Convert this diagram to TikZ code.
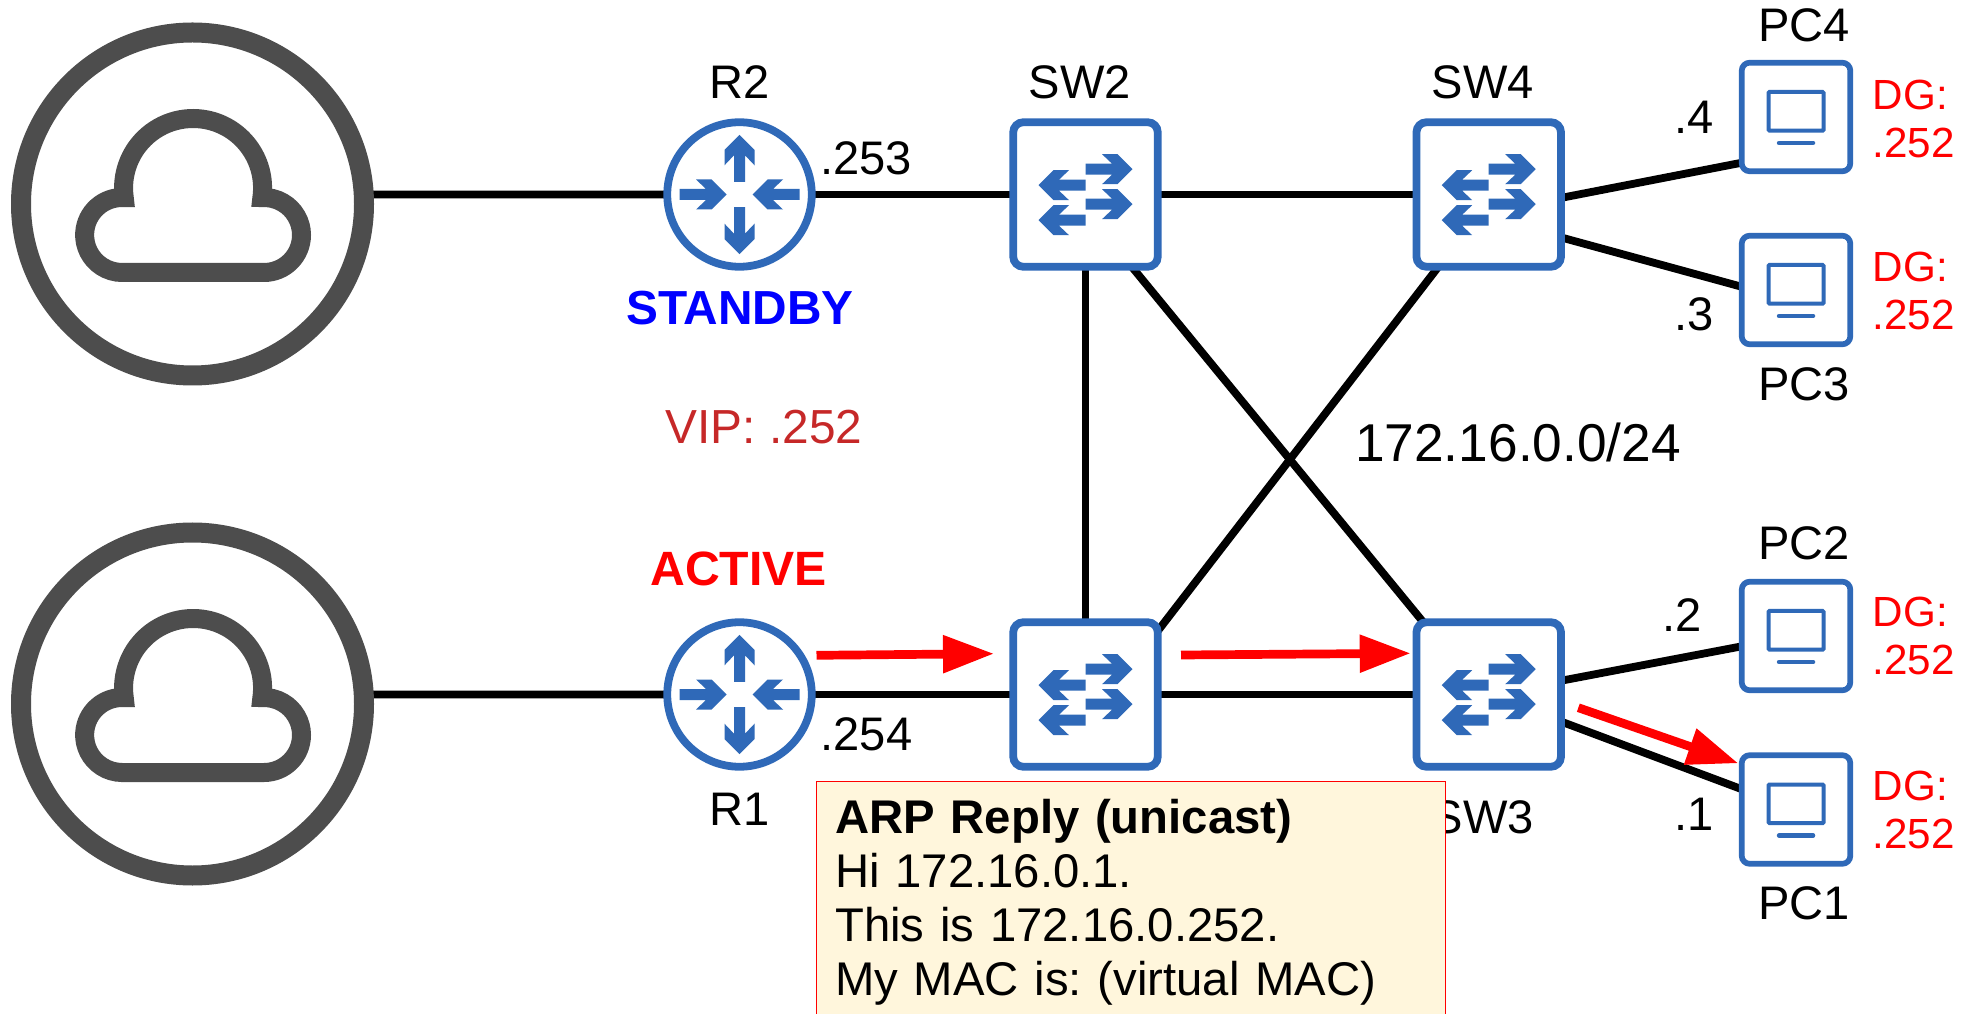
\documentclass[tikz,border=0pt]{standalone}
\usepackage{fontspec}
\setmainfont{Liberation Sans}
\usepackage{xcolor}
\usetikzlibrary{arrows.meta,backgrounds}
\definecolor{netblue}{HTML}{2F69B8}
\definecolor{netgrey}{HTML}{4D4D4D}
\definecolor{vipred}{HTML}{C62828}
\definecolor{notecream}{HTML}{FFF6DC}
\newcommand{\iconarrow}{(0,.055) -- (.265,.055) -- (.165,.15) -- (.32,.15) -- (.47,0) -- (.32,-.15) -- (.165,-.15) -- (.265,-.055) -- (0,-.055) -- cycle}

\begin{document}
\begin{tikzpicture}

\tikzset{inet/.style = {shape=circle,draw=netgrey,line width=.2cm,fill=white,minimum size=3.43cm,inner sep=0pt}}
\tikzset{router/.style = {shape=circle,draw=netblue,line width=.078cm,fill=white,minimum size=1.445cm,inner sep=0pt}}
\tikzset{switch/.style = {shape=rectangle,rounded corners=.1cm,draw=netblue,line width=.078cm,fill=white,minimum size=1.445cm,inner sep=0pt}}
\tikzset{pc/.style = {shape=rectangle,rounded corners=.08cm,draw=netblue,line width=.057cm,fill=white,minimum size=1.086cm,inner sep=0pt}}
\tikzset{edge/.style = {line width=.078cm,shorten <=-3pt,shorten >=-3pt}}
\tikzset{flow/.style = {red,line width=.087cm,-{Triangle[length=.51cm,width=.36cm]}}}
\tikzset{lbl/.style = {anchor=base,inner sep=0pt,font=\fontsize{13.4}{16}\selectfont}}
\tikzset{dg/.style = {anchor=west,inner sep=0pt,align=left,red,font=\fontsize{12}{13.65}\selectfont}}
\tikzset{cloudicon/.pic = {\draw[netgrey,line width=.19cm,miter limit=10] (-.715,-.685) -- (.715,-.685)
  arc[start angle=-90,end angle=93.2,radius=.375] arc[start angle=-7.9,end angle=187.9,radius=.695]
  arc[start angle=86.8,end angle=270,radius=.375] -- cycle;}}
\tikzset{routericon/.pic = {
  \foreach \a in {90,270} \fill[netblue,rotate=\a,shift={(.127,0)}] \iconarrow;
  \foreach \a in {0,180} \fill[netblue,rotate=\a,shift={(-.6,0)}] \iconarrow;}}
\tikzset{switchicon/.pic = {
  \fill[netblue,shift={(0,.253)}] \iconarrow;
  \fill[netblue,shift={(0,-.097)}] \iconarrow;
  \fill[netblue,shift={(0,.093)},rotate=180] \iconarrow;
  \fill[netblue,shift={(0,-.257)},rotate=180] \iconarrow;}}
\tikzset{pcicon/.pic = {
  \draw[netblue,line width=.04cm,rounded corners=.01cm] (-.275,-.137) rectangle (.275,.25);
  \draw[netblue,line width=.045cm,line cap=round] (-.17,-.26) -- (.17,-.26);}}

\useasboundingbox (0,0) rectangle (19.78,10.13);

\node[inet] (Inet2) at (1.925,8.09) {};
\node[inet] (Inet1) at (1.925,3.09) {};
\node[router] (R2) at (7.395,8.185) {};
\node[router] (R1) at (7.395,3.185) {};
\node[switch] (SW2) at (10.855,8.185) {};
\node[switch] (SW4) at (14.887,8.185) {};
\node[switch] (SW1) at (10.855,3.185) {};
\node[switch] (SW3) at (14.887,3.185) {};
\node[pc] (PC4) at (17.96,8.96) {};
\node[pc] (PC3) at (17.96,7.23) {};
\node[pc] (PC2) at (17.96,3.77) {};
\node[pc] (PC1) at (17.96,2.035) {};

\pic at (Inet2) {cloudicon};
\pic at (Inet1) {cloudicon};
\pic at (R2) {routericon};
\pic at (R1) {routericon};
\pic at (SW2) {switchicon};
\pic at (SW4) {switchicon};
\pic at (SW1) {switchicon};
\pic at (SW3) {switchicon};
\pic at (PC4) {pcicon};
\pic at (PC3) {pcicon};
\pic at (PC2) {pcicon};
\pic at (PC1) {pcicon};

%edges
\begin{scope}[on background layer]
\draw[edge] (Inet2.3) to (R2.west);
\draw[edge] (Inet1.3) to (R1.west);
\draw[edge] (R2) to (SW2);
\draw[edge] (R1) to (SW1);
\draw[edge] (SW2) to (SW4);
\draw[edge] (SW1) to (SW3);
\draw[edge] (SW2) to (SW1);
\draw[edge] (SW2.-57) to (SW3.132);
\draw[edge] (SW1.42) to (SW4.235.6);
\draw[edge] (SW4.-2) to (PC4.219);
\draw[edge] (SW4.-30) to (PC3.176);
\draw[edge] (SW3) to (PC2);
\draw[edge] (SW3) to (PC1);
\end{scope}

%labels
\node[lbl] (R2lbl) at (7.395,9.147) {R2};
\node[lbl] (R1lbl) at (7.395,1.88) {R1};
\node[lbl] (SW2lbl) at (10.80,9.147) {SW2};
\node[lbl] (SW4lbl) at (14.83,9.147) {SW4};
\node[lbl] (SW3lbl) at (14.83,1.80) {SW3};
\node[lbl] (PC4lbl) at (18.04,9.713) {PC4};
\node[lbl] (PC3lbl) at (18.04,6.123) {PC3};
\node[lbl] (PC2lbl) at (18.04,4.54) {PC2};
\node[lbl] (PC1lbl) at (18.04,.937) {PC1};
\node[lbl] (ip253) at (8.66,8.38) {.253};
\node[lbl] (ip254) at (8.665,2.623) {.254};
\node[lbl] (ip4) at (16.94,8.79) {.4};
\node[lbl] (ip3) at (16.94,6.823) {.3};
\node[lbl] (ip2) at (16.82,3.813) {.2};
\node[lbl] (ip1) at (16.94,1.823) {.1};
\node[lbl,blue,font=\fontsize{13.6}{16}\selectfont\bfseries] (standby) at (7.40,6.88) {STANDBY};
\node[lbl,red,font=\fontsize{13.7}{16}\selectfont\bfseries] (active) at (7.387,4.27) {ACTIVE};
\node[lbl,vipred,font=\fontsize{13.6}{16}\selectfont] (vip) at (7.64,5.697) {VIP: .252};
\node[lbl,font=\fontsize{15.15}{18}\selectfont] (subnet) at (15.18,5.51) {172.16.0.0/24};

\node[dg] (dg4) at (18.72,8.94) {DG:\\.252};
\node[dg] (dg3) at (18.72,7.22) {DG:\\.252};
\node[dg] (dg2) at (18.72,3.773) {DG:\\.252};
\node[dg] (dg1) at (18.72,2.03) {DG:\\.252};

%reply path
\coordinate (a1) at (8.165,3.577);
\coordinate (a2) at (9.94,3.593);
\coordinate (b1) at (11.81,3.58);
\coordinate (b2) at (14.107,3.597);
\coordinate (c1) at (15.783,3.053);
\coordinate (c2) at (17.383,2.497);
\draw[flow] (a1) to (a2);
\draw[flow] (b1) to (b2);
\draw[flow] (c1) to (c2);

%note
\node[anchor=north west,draw=red,line width=.014cm,fill=notecream,inner xsep=.185cm,inner ysep=.175cm,text width=5.92cm,text depth=2.4cm,align=left,font=\fontsize{13.45}{15.36}\selectfont\frenchspacing] (note) at (8.16,2.32)
  {\textbf{ARP Reply (unicast)}\\Hi 172.16.0.1.\\This is 172.16.0.252.\\My MAC is: (virtual MAC)};
\end{tikzpicture}
\end{document}
